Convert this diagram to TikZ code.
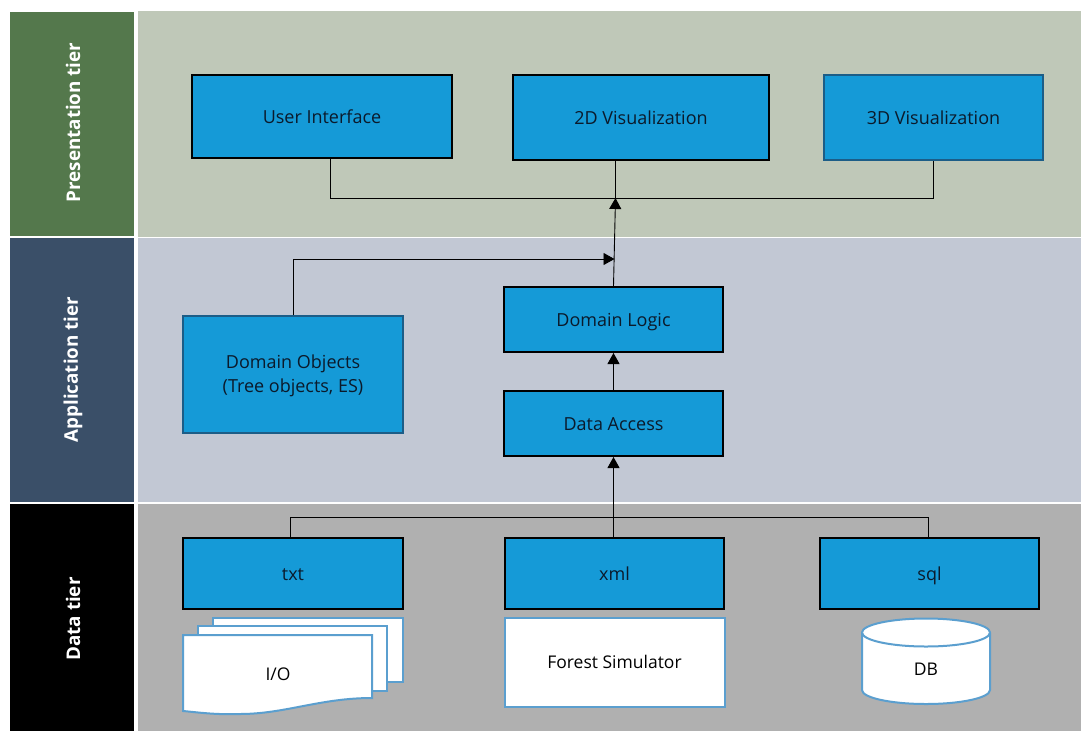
\documentclass[tikz,border=0pt]{standalone}
\usepackage{fontspec}
\setmainfont{Open Sans}
\usetikzlibrary{arrows.meta}
\definecolor{boxblue}{HTML}{159AD7}
\definecolor{edgeblue}{HTML}{5B9FCF}
\definecolor{edgedark}{HTML}{1C5D87}
\definecolor{inkblue}{HTML}{0B1A2B}
\definecolor{bandgreen}{HTML}{BFC8B8}
\definecolor{bandblue}{HTML}{C2C8D4}
\definecolor{bandgray}{HTML}{B0B0B0}
\definecolor{bargreen}{HTML}{54784C}
\definecolor{barblue}{HTML}{3A4F68}

\begin{document}
\begin{tikzpicture}[x=1pt, y=-1pt, inner sep=0pt, >={Triangle[length=11pt,width=12pt]}]
      \tikzstyle{band} = [anchor=north west]
      \tikzstyle{tierlabel} = [rotate=90, text=white, font=\fontsize{18.8}{22}\selectfont\bfseries]
      \tikzstyle{module} = [draw=black, line width=2pt, fill=boxblue, text=inkblue, align=center, font=\fontsize{18}{24}\selectfont]
      \tikzstyle{single} = [module, text height=13pt, text depth=0pt]
      \tikzstyle{store} = [draw=edgeblue, line width=2pt, fill=white, text=black, align=center, font=\fontsize{17.5}{22}\selectfont]
      \tikzstyle{storetext} = [text=black, font=\fontsize{17.5}{22}\selectfont]
      \tikzstyle{link} = [black, line width=0.9pt]
      \useasboundingbox (0,0) rectangle (1081,731);
      \fill[white] (0,0) rectangle (1081,731);

      \node (bandpres) [band, fill=bandgreen, minimum width=943pt, minimum height=226pt] at (138,11) {};
      \node (bandapp) [band, fill=bandblue, minimum width=943pt, minimum height=264pt] at (138,238) {};
      \node (banddata) [band, fill=bandgray, minimum width=943pt, minimum height=227pt] at (138,504) {};
      \node (barpres) [band, fill=bargreen, minimum width=124pt, minimum height=224pt] at (10,12) {};
      \node (barapp) [band, fill=barblue, minimum width=124pt, minimum height=264pt] at (10,238) {};
      \node (bardata) [band, fill=black, minimum width=124pt, minimum height=227pt] at (10,504) {};
      \node (labelpres) [tierlabel] at (73,122.5) {Presentation tier};
      \node (labelapp) [tierlabel] at (73,369.5) {Application tier};
      \node (labeldata) [tierlabel] at (73,619) {Data tier};

      \node (userui) [single, minimum width=260pt, minimum height=83pt] at (322,116.5) {User Interface};
      \node (viztwo) [single, minimum width=256pt, minimum height=85pt] at (641,117.5) {2D Visualization};
      \node (vizthree) [single, draw=edgedark, minimum width=219pt, minimum height=85pt] at (933.5,117.5) {3D Visualization};
      \node (logic) [single, minimum width=219pt, minimum height=65pt] at (613.5,319.5) {Domain Logic};
      \node (access) [single, minimum width=219pt, minimum height=65pt] at (613.5,423.5) {Data Access};
      \node (objects) [module, draw=edgedark, minimum width=220pt, minimum height=117pt, text depth=0pt] at (293,374.5) {};
      \node (objectstext) [text=inkblue, align=center, font=\fontsize{18}{24}\selectfont] at (293,375.5) {Domain Objects\\(Tree objects, ES)};
      \node (txt) [single, minimum width=220pt, minimum height=71pt] at (293,573.5) {txt};
      \node (xml) [single, minimum width=219pt, minimum height=71pt] at (614.5,573.5) {xml};
      \node (sql) [single, minimum width=219pt, minimum height=71pt] at (929.5,573.5) {sql};

      \draw[store] (213,618) -- (403,618) -- (403,682) -- (213,682) -- cycle;
      \draw[store] (198,626) -- (387,626) -- (387,691) -- (198,691) -- cycle;
      \draw[store] (183,635) -- (372,635) -- (372,698)
        .. controls (320,698) and (285,714) .. (240,714)
        .. controls (215,715) and (195,712) .. (183,711) -- cycle;
      \node (iolabel) [storetext] at (278,674) {I/O};
      \node (simulator) [store, minimum width=220pt, minimum height=89pt] at (614.5,662) {Forest Simulator};
      \draw[store] (862,632.5) arc[start angle=180, end angle=0, x radius=64pt, y radius=14pt]
        -- (990,690) arc[start angle=0, end angle=-180, x radius=64pt, y radius=14pt] -- cycle;
      \draw[store] (862,632.5) arc[start angle=180, end angle=360, x radius=64pt, y radius=14pt];
      \node (dblabel) [storetext] at (926,669) {DB};

      \coordinate (joinpres) at (615.5,198);
      \coordinate (joinapp) at (614.5,259);
      \coordinate (joindata) at (613.5,517);
      \draw[link] (userui.south -| 330,0) |- (joinpres);
      \draw[link] (vizthree.south) |- (joinpres);
      \draw[link] (viztwo.south -| joinpres) -- (joinpres);
      \draw[link, ->] (logic.north) -- (joinpres);
      \draw[link, ->] (objects.north) |- (joinapp);
      \draw[link, ->] (access.north) -- (logic.south);
      \draw[link, ->] (xml.north -| joindata) -- (access.south);
      \draw[link] (txt.north -| 290,0) |- (joindata);
      \draw[link] (sql.north -| 928,0) |- (joindata);
    \end{tikzpicture}
\end{document}
